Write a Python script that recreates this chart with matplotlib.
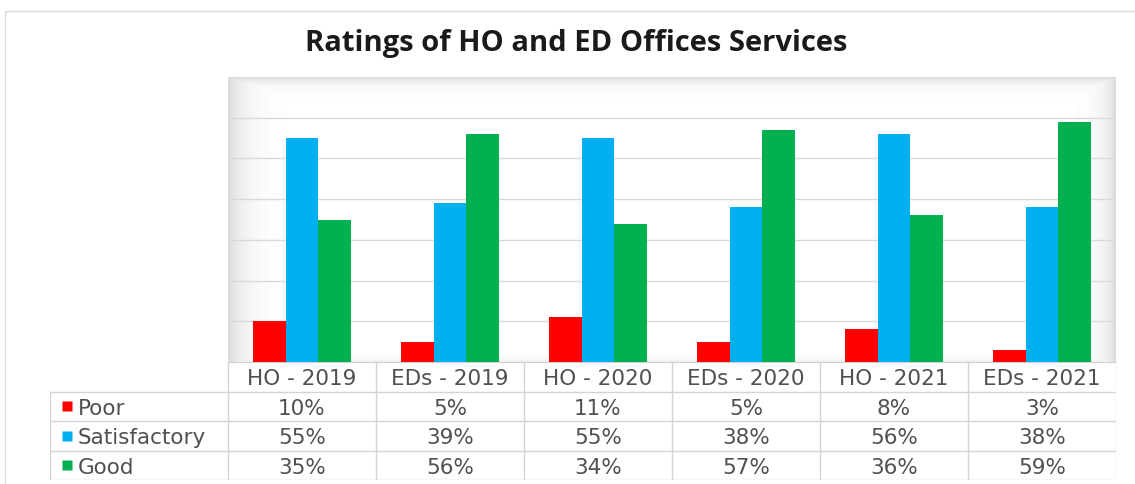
import numpy as np
import matplotlib.pyplot as plt
from matplotlib.patches import Rectangle

categories = ["HO - 2019", "EDs - 2019", "HO - 2020", "EDs - 2020", "HO - 2021", "EDs - 2021"]
poor = [10, 5, 11, 5, 8, 3]
satisfactory = [55, 39, 55, 38, 56, 38]
good = [35, 56, 34, 57, 36, 59]
series_names = ["Poor", "Satisfactory", "Good"]
colors = ["#FF0000", "#00B0F0", "#00B050"]

W, H = 1135, 485
fig = plt.figure(figsize=(W / 100, H / 100), dpi=100)


def fx(px):
    return px / W


def fy(py):
    return 1 - py / H


# outer chart frame
fig.patches.append(Rectangle((fx(5), fy(495)), fx(1150) - fx(5), fy(12) - fy(495),
                             transform=fig.transFigure, fill=False, ec="#D9D9D9", lw=1))

left, right, top, base = 228, 1116, 78, 363
ax = fig.add_axes([fx(left), fy(base), fx(right) - fx(left), (base - top) / H])

# inner shadow of the plot area
nx, ny = right - left, base - top
xx, yy = np.meshgrid(np.arange(nx), np.arange(ny))
shade = np.maximum.reduce([
    0.15 * np.exp(-xx / 16.0),
    0.14 * np.exp(-yy / 6.0),
    0.14 * np.exp(-(nx - 1 - xx) / 11.0),
    0.06 * np.exp(-(ny - 1 - yy) / 3.0),
])
ax.imshow(1 - shade, cmap="gray", vmin=0, vmax=1, extent=(-0.5, 5.5, 0, 70),
          aspect="auto", origin="upper", zorder=0)

x = np.arange(len(categories))
w = 1 / 4.5
for k, (vals, c) in enumerate(zip([poor, satisfactory, good], colors)):
    ax.bar(x + (k - 1) * w, vals, width=w, color=c, zorder=3)

ax.set_xlim(-0.5, 5.5)
ax.set_ylim(0, 70)
for g in range(10, 70, 10):
    ax.axhline(g, color="#D9D9D9", lw=1, zorder=1)
for s in ax.spines.values():
    s.set_visible(False)
ax.spines["bottom"].set_visible(True)
ax.spines["bottom"].set_color("#D0D0D0")
ax.set_xticks([])
ax.set_yticks([])

# data table under the chart
tleft, tbot = 50, 481
hdr = (left - tleft) / ((right - left) / len(categories))
tax = fig.add_axes([fx(tleft), fy(tbot), fx(right) - fx(tleft), (tbot - base) / H])
tax.set_xlim(-0.5 - hdr, 5.5)
tax.set_ylim(4, 0)
tax.axis("off")

lc = "#D4D4D4"
for r in range(1, 5):
    tax.plot([-0.5 - hdr, 5.5], [r, r], color=lc, lw=1)
for k in range(len(categories) + 1):
    tax.plot([k - 0.5, k - 0.5], [0, 4], color=lc, lw=1)
tax.plot([-0.5 - hdr, -0.5 - hdr], [1, 4], color=lc, lw=1)

tc = "#505050"
fs = 15.5
for i, cat in enumerate(categories):
    tax.text(i, 0.55, cat, ha="center", va="center", fontsize=fs, color=tc)

for r, (name, vals, c) in enumerate(zip(series_names, [poor, satisfactory, good], colors)):
    y = r + 1.5
    tax.plot(-0.5 - hdr + 0.115, y, marker="s", ms=7, color=c, mec="none")
    tax.text(-0.5 - hdr + 0.19, y + 0.05, name, ha="left", va="center", fontsize=fs, color=tc)
    for i, v in enumerate(vals):
        tax.text(i, y + 0.05, f"{v}%", ha="center", va="center", fontsize=fs, color=tc)

fig.text(fx(576), fy(44), "Ratings of HO and ED Offices Services", ha="center", va="center",
         fontsize=21, fontweight="bold", family="Open Sans", color="#1A1A1A")

fig.savefig("out.png", dpi=100)
